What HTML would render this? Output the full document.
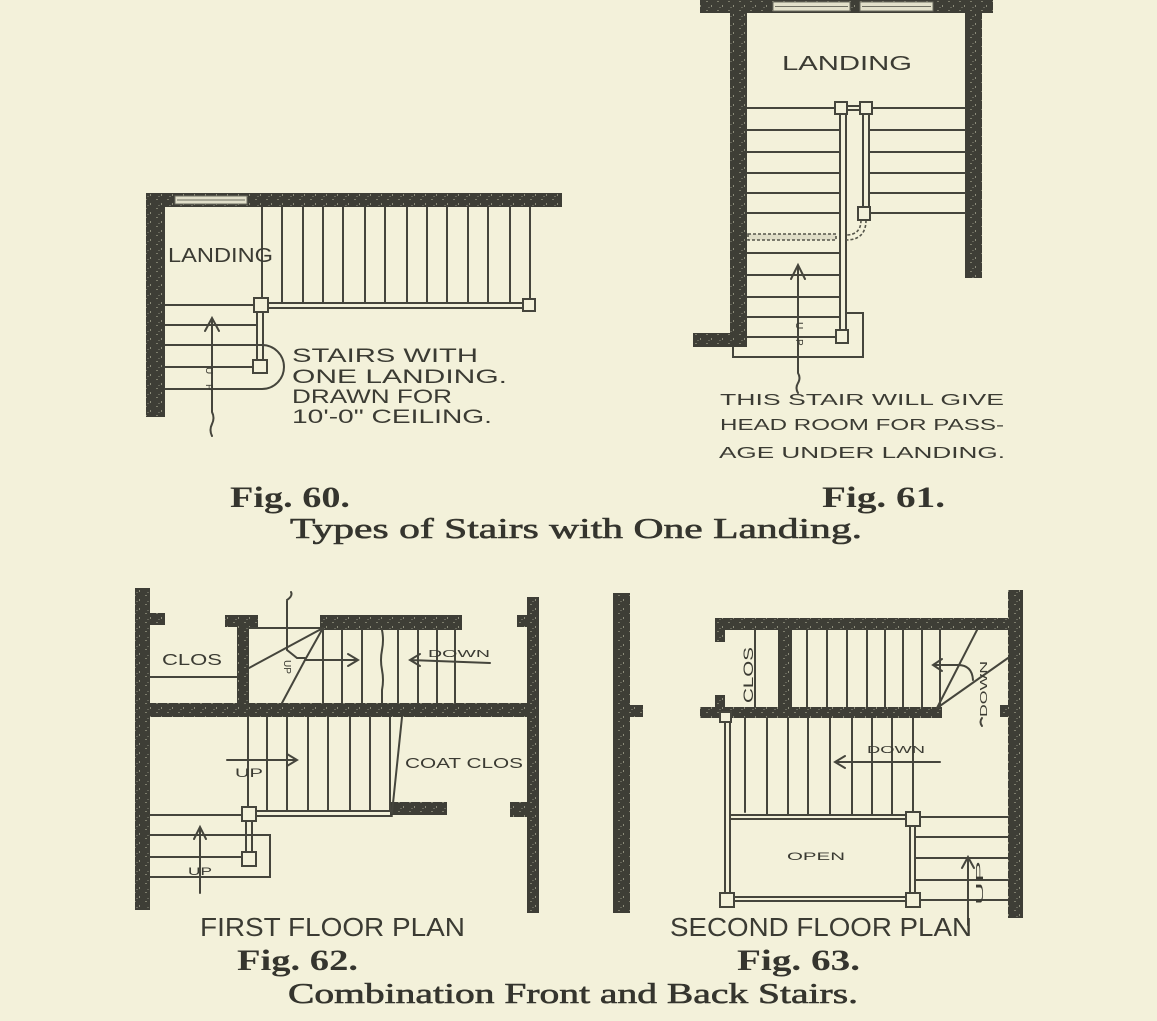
<!DOCTYPE html>
<html><head><meta charset="utf-8"><style>
html,body{margin:0;padding:0;background:#f3f1da;}
svg{display:block}
</style></head><body>
<svg width="1157" height="1021" viewBox="0 0 1157 1021" xmlns="http://www.w3.org/2000/svg">
<defs>
<pattern id="sp" width="11" height="9" patternUnits="userSpaceOnUse">
<rect width="11" height="9" fill="#3e3e36"/>
<rect x="2" y="1" width="2" height="1" fill="#7d7d6c"/>
<rect x="7" y="5" width="1" height="2" fill="#8c8c7a"/>
<rect x="4" y="7" width="2" height="1" fill="#66665a"/>
</pattern>
</defs>
<rect width="1157" height="1021" fill="#f3f1da"/>

<!-- ================= WALLS ================= -->
<g fill="url(#sp)">
<!-- Fig 60 -->
<rect x="146" y="193" width="416" height="14"/>
<rect x="146" y="193" width="19" height="224"/>
<!-- Fig 61 -->
<rect x="700" y="0" width="293" height="13"/>
<rect x="730" y="0" width="17" height="347"/>
<rect x="693" y="333" width="54" height="14"/>
<rect x="965" y="0" width="17" height="278"/>
<!-- Fig 62 -->
<rect x="135" y="588" width="15" height="322"/>
<rect x="135" y="613" width="30" height="12"/>
<rect x="225" y="615" width="33" height="12"/>
<rect x="237" y="615" width="12" height="90"/>
<rect x="320" y="615" width="142" height="15"/>
<rect x="135" y="703" width="395" height="14"/>
<rect x="527" y="597" width="12" height="316"/>
<rect x="517" y="615" width="21" height="12"/>
<rect x="510" y="802" width="28" height="15"/>
<rect x="390" y="802" width="57" height="13"/>
<!-- Fig 63 -->
<rect x="613" y="593" width="17" height="320"/>
<rect x="630" y="705" width="13" height="12"/>
<rect x="1008" y="590" width="15" height="328"/>
<rect x="1000" y="705" width="8" height="12"/>
<rect x="715" y="618" width="293" height="12"/>
<rect x="715" y="618" width="10" height="24"/>
<rect x="778" y="630" width="14" height="77"/>
<rect x="700" y="707" width="242" height="11"/>
<rect x="715" y="695" width="10" height="12"/>
</g>

<!-- windows -->
<g fill="#e2e0ca" stroke="#6f6f62" stroke-width="1">
<rect x="175" y="196" width="72" height="8"/>
<rect x="773" y="2" width="77" height="9"/>
<rect x="860" y="2" width="73" height="9"/>
</g>
<g stroke="#6f6f62" stroke-width="1">
<path d="M177,200 H245"/>
<path d="M775,6.5 H848 M862,6.5 H931"/>
</g>

<!-- ================= LINES ================= -->
<g stroke="#45453c" stroke-width="2" fill="none" stroke-linecap="round">
<!-- Fig 60 -->
<path d="M262,207 V298 M282,207 V303 M303,207 V303 M323,207 V303 M343,207 V303 M365,207 V303 M385,207 V303 M407,207 V303 M427,207 V303 M447,207 V303 M468,207 V303 M488,207 V303 M510,207 V303 M530,207 V299"/>
<path d="M268,303 H523 M268,308 H523"/>
<path d="M257,312 V360 M263,312 V360"/>
<path d="M165,305 H254 M165,325 H257 M165,345 H262 M165,367 H253 M165,389 H262"/>
<path d="M262,345 A22,22 0 0 1 262,389"/>
<path d="M212,436 q-3,-6 0,-12 q3,-6 0,-12 L212,318 M205,331 L212,318 L219,331"/>

<!-- Fig 61 -->
<path d="M747,108 H835 M747,130 H840 M747,152 H840 M747,173 H840 M747,193 H840 M747,213 H840 M747,253 H840 M747,275 H840 M747,297 H840 M747,317 H840 M747,337 H836"/>
<path d="M872,108 H965 M869,130 H965 M869,152 H965 M869,173 H965 M869,193 H965 M870,213 H965"/>
<path d="M847,106 H860 M847,110 H860"/>
<path d="M840,114 V330 M846,114 V330"/>
<path d="M863,114 V207 M869,114 V207"/>
<path d="M846,313 H863 V357 H733 V347"/>
<path d="M798,393 q-3,-5 0,-10 q3,-5 0,-10 L798,266 M791,279 L798,265 L805,279"/>

<!-- Fig 62 -->
<path d="M249,628 H320 M150,677 H237"/>
<path d="M323,628 V703 M342,630 V703 M362,630 V703 M382,630 q2,10 0,20 q-2,10 0,20 q2,10 0,20 V703 M398,630 V703 M418,630 V703 M437,630 V703 M455,630 V703"/>
<path d="M323,628 L249,668 M323,628 L305,660 L282,703 M287,600 q6,-4 4,-8 M287,601 V650 L297,658 H305"/>
<path d="M305,660 H358 M348,654 L358,660 L348,666"/>
<path d="M490,663 L410,660 M420,654 L410,660 L420,666"/>
<path d="M248,717 V807 M267,717 V811 M287,717 V811 M308,717 V811 M328,717 V811 M350,717 V811 M370,717 V811 M390,717 V811 M402,717 L392,813"/>
<path d="M227,760 H297 M287,754 L297,760 L287,766"/>
<path d="M256,811 H392 M256,816 H392"/>
<path d="M246,821 V852 M252,821 V852"/>
<path d="M150,815 H242 M150,835 H270 V877 H150 M150,857 H242"/>
<path d="M200,893 V827 M194,839 L200,827 L206,839"/>

<!-- Fig 63 -->
<path d="M755,630 V707 M807,630 V707 M827,630 V707 M847,630 V707 M867,630 V707 M885,630 V707 M903,630 V707 M922,630 V707 M940,630 V707"/>
<path d="M937,708 L977,630 M937,708 L1008,658"/>
<path d="M973,680 Q972,665 958,665 L933,665 M942,659 L933,665 L942,671"/>
<path d="M982,718 q-3,4 0,8"/>
<path d="M745,718 V812 M767,718 V815 M788,718 V815 M808,718 V815 M830,718 V815 M852,718 V815 M872,718 V815 M892,718 V815 M913,718 V812"/>
<path d="M725,722 V893 M730,722 V893"/>
<path d="M731,815 H906 M731,819 H906"/>
<path d="M910,826 V893 M915,826 V893"/>
<path d="M734,897 H906 M734,901 H906"/>
<path d="M940,762 H835 M845,756 L835,762 L845,768"/>
<path d="M920,817 H1008 M915,837 H1008 M915,858 H1008 M915,880 H1008 M920,900 H1008"/>
<path d="M968,925 V857 M962,868 L968,857 L974,868"/>
</g>

<!-- dashed bits (Fig 61) -->
<g stroke="#55554a" stroke-width="1.6" fill="none" stroke-dasharray="3 2">
<path d="M866,220 Q866,240 846,240 M861,220 Q861,235 846,235"/>
<rect x="748" y="234" width="88" height="6" fill="#e0dec8"/>
</g>

<!-- newel posts -->
<g stroke="#45453c" stroke-width="2" fill="#f3f1da">
<rect x="254" y="298" width="14" height="14"/>
<rect x="523" y="299" width="12" height="12"/>
<rect x="253" y="360" width="14" height="13"/>
<rect x="835" y="102" width="12" height="12"/>
<rect x="860" y="102" width="12" height="12"/>
<rect x="858" y="207" width="12" height="13"/>
<rect x="836" y="330" width="12" height="13"/>
<rect x="242" y="807" width="14" height="14"/>
<rect x="242" y="852" width="14" height="14"/>
<rect x="720" y="712" width="11" height="10"/>
<rect x="906" y="812" width="14" height="14"/>
<rect x="720" y="893" width="14" height="14"/>
<rect x="906" y="893" width="14" height="14"/>
</g>

<!-- ================= HAND LABELS ================= -->
<g font-family="Liberation Sans, sans-serif" fill="#3b3b33">
<!-- Fig 60 -->
<text x="168" y="262" font-size="20" textLength="105" lengthAdjust="spacingAndGlyphs">LANDING</text>
<text x="292" y="362" font-size="19" textLength="186" lengthAdjust="spacingAndGlyphs">STAIRS WITH</text>
<text x="292" y="383" font-size="19" textLength="215" lengthAdjust="spacingAndGlyphs">ONE LANDING.</text>
<text x="292" y="403" font-size="19" textLength="160" lengthAdjust="spacingAndGlyphs">DRAWN FOR</text>
<text x="292" y="423" font-size="19" textLength="200" lengthAdjust="spacingAndGlyphs">10'-0" CEILING.</text>
<text font-size="10" transform="translate(206,367) rotate(90)">U</text>
<text font-size="10" transform="translate(206,384) rotate(90)">P</text>
<!-- Fig 61 -->
<text x="782" y="70" font-size="20" textLength="130" lengthAdjust="spacingAndGlyphs">LANDING</text>
<text font-size="10" transform="translate(796,322) rotate(90)">U</text>
<text font-size="10" transform="translate(796,339) rotate(90)">P</text>
<text x="720" y="405" font-size="16" textLength="284" lengthAdjust="spacingAndGlyphs">THIS STAIR WILL GIVE</text>
<text x="720" y="430" font-size="16" textLength="284" lengthAdjust="spacingAndGlyphs">HEAD ROOM FOR PASS-</text>
<text x="719" y="458" font-size="16" textLength="286" lengthAdjust="spacingAndGlyphs">AGE UNDER LANDING.</text>
<!-- Fig 62 -->
<text x="162" y="665" font-size="16" textLength="60" lengthAdjust="spacingAndGlyphs">CLOS</text>
<text font-size="10" transform="translate(284,660) rotate(90)">UP</text>
<text x="428" y="657" font-size="10" textLength="62" lengthAdjust="spacingAndGlyphs">DOWN</text>
<text x="235" y="777" font-size="12" textLength="28" lengthAdjust="spacingAndGlyphs">UP</text>
<text x="405" y="768" font-size="15" textLength="118" lengthAdjust="spacingAndGlyphs">COAT CLOS</text>
<text x="188" y="875" font-size="11" textLength="24" lengthAdjust="spacingAndGlyphs">UP</text>
<!-- Fig 63 -->
<text font-size="14" transform="translate(753,703) rotate(-90)" textLength="56" lengthAdjust="spacingAndGlyphs">CLOS</text>
<text font-size="10" transform="translate(987,717) rotate(-90)" textLength="56" lengthAdjust="spacingAndGlyphs">DOWN</text>
<text x="867" y="753" font-size="10" textLength="58" lengthAdjust="spacingAndGlyphs">DOWN</text>
<text x="787" y="860" font-size="11" textLength="58" lengthAdjust="spacingAndGlyphs">OPEN</text>
<text font-size="10" transform="translate(983,905) rotate(-90)" textLength="44" lengthAdjust="spacingAndGlyphs">UP</text>
<!-- plan titles -->
<text x="200" y="936" font-size="26" textLength="265" lengthAdjust="spacingAndGlyphs">FIRST FLOOR PLAN</text>
<text x="670" y="936" font-size="26" textLength="302" lengthAdjust="spacingAndGlyphs">SECOND FLOOR PLAN</text>
</g>

<!-- ================= CAPTIONS ================= -->
<g font-family="Liberation Serif, serif" fill="#35352e">
<text x="230" y="507" font-size="30" font-weight="bold" textLength="120" lengthAdjust="spacingAndGlyphs">Fig. 60.</text>
<text x="822" y="507" font-size="30" font-weight="bold" textLength="123" lengthAdjust="spacingAndGlyphs">Fig. 61.</text>
<text x="290" y="538" font-size="29" stroke="#35352e" stroke-width="0.6" textLength="572" lengthAdjust="spacingAndGlyphs">Types of Stairs with One Landing.</text>
<text x="237" y="970" font-size="30" font-weight="bold" textLength="121" lengthAdjust="spacingAndGlyphs">Fig. 62.</text>
<text x="737" y="970" font-size="30" font-weight="bold" textLength="123" lengthAdjust="spacingAndGlyphs">Fig. 63.</text>
<text x="288" y="1003" font-size="29" stroke="#35352e" stroke-width="0.6" textLength="570" lengthAdjust="spacingAndGlyphs">Combination Front and Back Stairs.</text>
</g>
</svg>
</body></html>
